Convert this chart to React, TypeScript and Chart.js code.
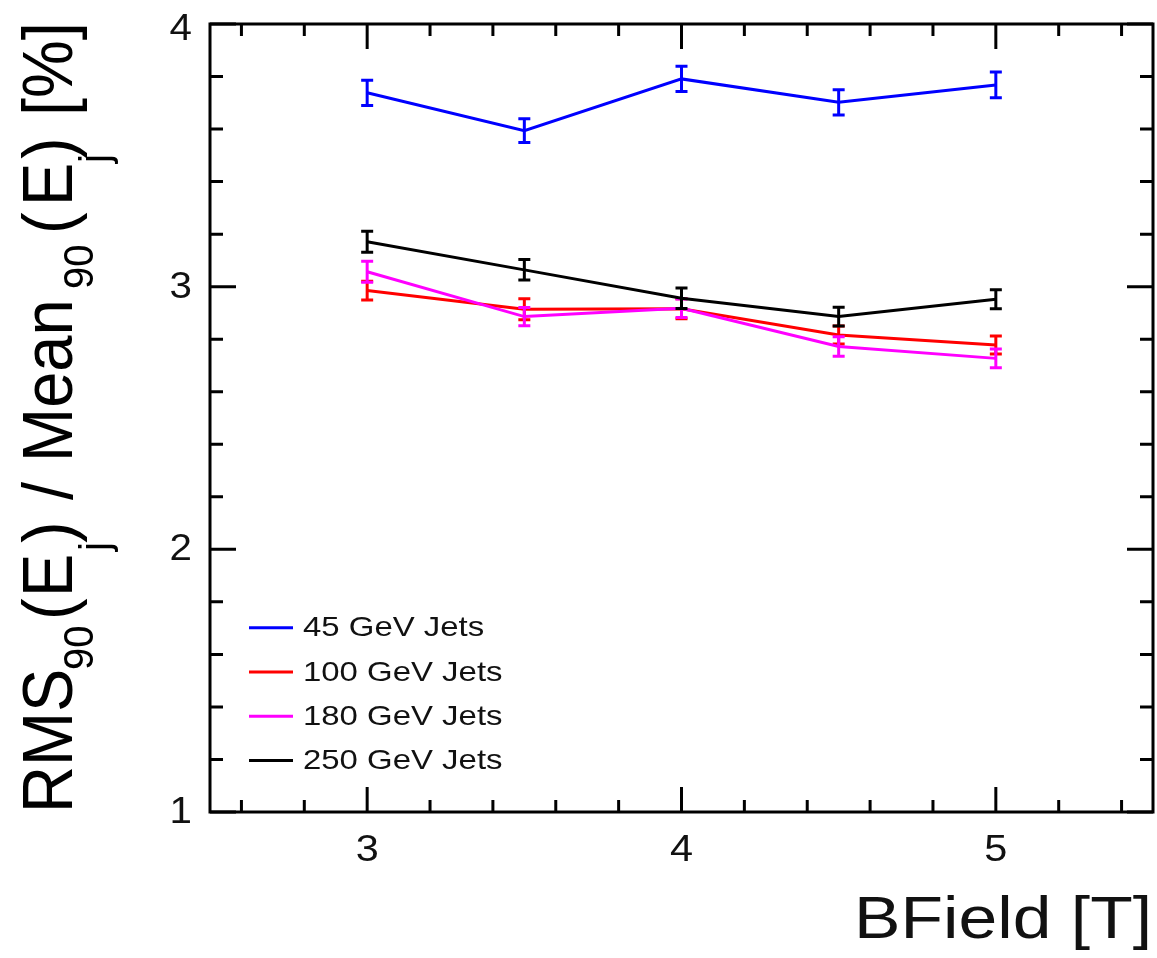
import React, { useEffect, useRef } from "react";
import { Chart, registerables } from "chart.js";
Chart.register(...registerables);

// ---- data ----
const bField = [3, 3.5, 4, 4.5, 5];
const seriesLabels = ["45 GeV Jets", "100 GeV Jets", "180 GeV Jets", "250 GeV Jets"];
const seriesColors = ["#0000ff", "#ff0000", "#ff00ff", "#000000"];
const res45 = [3.738, 3.594, 3.791, 3.702, 3.768];
const err45 = [0.048, 0.045, 0.048, 0.048, 0.049];
const res100 = [2.985, 2.914, 2.916, 2.816, 2.778];
const err100 = [0.036, 0.04, 0.038, 0.034, 0.034];
const res180 = [3.057, 2.886, 2.918, 2.772, 2.727];
const err180 = [0.04, 0.035, 0.035, 0.037, 0.036];
const res250 = [3.171, 3.064, 2.956, 2.886, 2.952];
const err250 = [0.04, 0.039, 0.039, 0.036, 0.036];
const xMajorTicks = [3, 4, 5];
const xTickLabels = ["3", "4", "5"];
const yMajorTicks = [1, 2, 3, 4];
const yTickLabels = ["1", "2", "3", "4"];
const minorStep = 0.2;
const xRange = [2.5, 5.5];
const yRange = [1, 4];
const xTitle = "BField [T]";

const FONT = "'Liberation Sans', Arial, Helvetica, sans-serif";

function drawStretched(ctx: CanvasRenderingContext2D, text: string, x: number, y: number, sx: number, align: CanvasTextAlign, baseline: CanvasTextBaseline) {
  ctx.save();
  ctx.translate(x, y);
  ctx.scale(sx, 1);
  ctx.textAlign = align;
  ctx.textBaseline = baseline;
  ctx.fillText(text, 0, 0);
  ctx.restore();
}

const errorBarPlugin = {
  id: "errorBars",
  afterDatasetDraw(chart: any, args: any) {
    const ds = chart.data.datasets[args.index];
    const errs: number[] = ds.errors;
    if (!errs) return;
    const ctx = chart.ctx;
    const xs = chart.scales.x;
    const ys = chart.scales.y;
    ctx.save();
    ctx.strokeStyle = ds.borderColor;
    ctx.lineWidth = 3;
    ds.data.forEach((p: any, i: number) => {
      const px = xs.getPixelForValue(p.x);
      const y1 = ys.getPixelForValue(p.y + errs[i]);
      const y2 = ys.getPixelForValue(p.y - errs[i]);
      ctx.beginPath();
      ctx.moveTo(px, y1);
      ctx.lineTo(px, y2);
      ctx.moveTo(px - 6, y1);
      ctx.lineTo(px + 6, y1);
      ctx.moveTo(px - 6, y2);
      ctx.lineTo(px + 6, y2);
      ctx.stroke();
    });
    ctx.restore();
  },
};

const framePlugin = {
  id: "rootFrame",
  afterDatasetsDraw(chart: any) {
    const ctx: CanvasRenderingContext2D = chart.ctx;
    const xs = chart.scales.x;
    const ys = chart.scales.y;
    const a = chart.chartArea;
    ctx.save();
    ctx.strokeStyle = "#000";
    ctx.lineWidth = 3;
    ctx.strokeRect(a.left, a.top, a.right - a.left, a.bottom - a.top);

    const majLen = 25;
    const minLen = 12;
    ctx.beginPath();
    // x ticks
    for (let v = xRange[0]; v <= xRange[1] + 1e-9; v += minorStep / 2) {
      const r = Math.round(v * 10) / 10;
      const isMajor = xMajorTicks.includes(r);
      const isMinor = Math.abs(Math.round(r / minorStep) * minorStep - r) < 1e-6;
      if (!isMajor && !isMinor) continue;
      const px = xs.getPixelForValue(r);
      const len = isMajor ? majLen : minLen;
      ctx.moveTo(px, a.bottom);
      ctx.lineTo(px, a.bottom - len);
      ctx.moveTo(px, a.top);
      ctx.lineTo(px, a.top + len);
    }
    // y ticks
    for (let v = yRange[0]; v <= yRange[1] + 1e-9; v += minorStep) {
      const r = Math.round(v * 10) / 10;
      const isMajor = yMajorTicks.includes(r);
      const py = ys.getPixelForValue(r);
      const len = isMajor ? majLen + 1 : minLen + 1;
      ctx.moveTo(a.left, py);
      ctx.lineTo(a.left + len, py);
      ctx.moveTo(a.right, py);
      ctx.lineTo(a.right - len, py);
    }
    ctx.stroke();

    // tick labels
    ctx.fillStyle = "#111";
    ctx.font = `37px ${FONT}`;
    xMajorTicks.forEach((v, i) => {
      drawStretched(ctx, xTickLabels[i], xs.getPixelForValue(v), a.bottom + 49, 1.12, "center", "alphabetic");
    });
    ctx.font = `36px ${FONT}`;
    yMajorTicks.forEach((v, i) => {
      const py = Math.max(ys.getPixelForValue(v), a.top + 5.5);
      drawStretched(ctx, yTickLabels[i], a.left - 18, py + 1, 1.12, "right", "middle");
    });

    // x title
    ctx.font = `60px ${FONT}`;
    const m = ctx.measureText(xTitle);
    const glyphW = m.actualBoundingBoxLeft + m.actualBoundingBoxRight;
    const sxT = 289 / glyphW;
    drawStretched(ctx, xTitle, 1152, 938, sxT, "right", "alphabetic");

    // y title (rotated, with subscripts)
    const mainF = 65;
    const subF = 40;
    const hs = 1.07;
    const pieces: [string, number, number, boolean][] = [
      ["RMS", 0, 0, false],
      ["90", 143, 21, true],
      ["(", 193, 0, false],
      ["E", 216, 0, false],
      ["j", 262, 37, true],
      [")", 270, 0, false],
      ["/", 313, 0, false],
      ["Mean", 351, 0, false],
      ["90", 524, 21, true],
      ["(", 579, 0, false],
      ["E", 607, 0, false],
      ["j", 650, 37, true],
      [")", 654, 0, false],
      ["[%]", 697, 0, false],
    ];
    ctx.fillStyle = "#000";
    ctx.save();
    ctx.translate(72, 813);
    ctx.rotate(-Math.PI / 2);
    pieces.forEach(([t, off, dy, sub]) => {
      ctx.save();
      ctx.font = `${sub ? subF : mainF}px ${FONT}`;
      ctx.translate(off, dy);
      ctx.scale(1, hs);
      ctx.textAlign = "left";
      ctx.textBaseline = "alphabetic";
      ctx.fillText(t, 0, 0);
      ctx.restore();
    });
    ctx.restore();

    // legend
    ctx.font = `28px ${FONT}`;
    const lm = ctx.measureText(seriesLabels[0]);
    const lgW = lm.actualBoundingBoxLeft + lm.actualBoundingBoxRight;
    const lsx = 180 / lgW;
    seriesLabels.forEach((lab, i) => {
      const y = 627.7 + i * 44.3;
      ctx.strokeStyle = seriesColors[i];
      ctx.lineWidth = 3;
      ctx.beginPath();
      ctx.moveTo(249, y);
      ctx.lineTo(293, y);
      ctx.stroke();
      ctx.fillStyle = "#111";
      drawStretched(ctx, lab, 303, y + 1, lsx, "left", "middle");
    });
    ctx.restore();
  },
};

export default function App() {
  const ref = useRef<HTMLCanvasElement | null>(null);
  useEffect(() => {
    if (!ref.current) return;
    const series = [res45, res100, res180, res250];
    const errs = [err45, err100, err180, err250];
    const chart = new Chart(ref.current, {
      type: "line",
      data: {
        datasets: series.map((vals, k) => ({
          label: seriesLabels[k],
          data: bField.map((x, i) => ({ x, y: vals[i] })),
          errors: errs[k],
          borderColor: seriesColors[k],
          backgroundColor: seriesColors[k],
          borderWidth: 3,
          pointRadius: 0,
          fill: false,
          tension: 0,
          order: 3 - k,
        })) as any,
      },
      options: {
        responsive: false,
        animation: false,
        events: [],
        layout: { padding: { left: 210, top: 24, right: 4, bottom: 146 } },
        scales: {
          x: { type: "linear", min: xRange[0], max: xRange[1], display: false },
          y: { type: "linear", min: yRange[0], max: yRange[1], display: false },
        },
        plugins: { legend: { display: false }, tooltip: { enabled: false } },
      },
      plugins: [errorBarPlugin, framePlugin],
    });
    return () => chart.destroy();
  }, []);
  return (
    <div style={{ position: "fixed", left: 0, top: 0, width: 1157, height: 958, background: "#fff" }}>
      <canvas ref={ref} width={1157} height={958} style={{ width: 1157, height: 958 }} />
    </div>
  );
}
